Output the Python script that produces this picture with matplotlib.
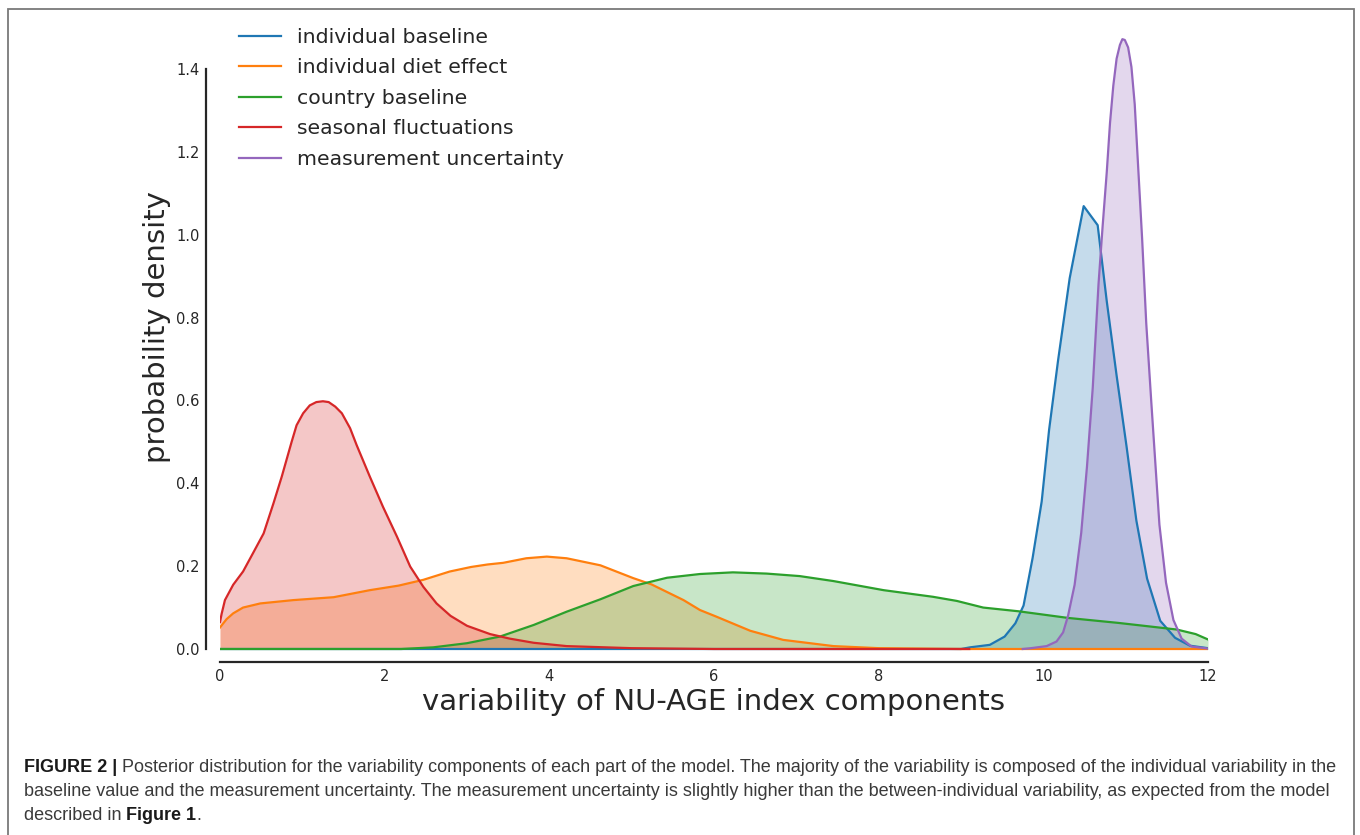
import matplotlib
matplotlib.use("Agg")
import matplotlib.pyplot as plt
from matplotlib.patches import Rectangle

# ---- posterior density curves (x = variability, y = density) ----
series_names = ["individual baseline", "individual diet effect", "country baseline",
                "seasonal fluctuations", "measurement uncertainty"]
series_colors = ["#1f77b4", "#ff7f0e", "#2ca02c", "#d62728", "#9467bd"]

ind_base_x = [0.0, 9.0, 9.11, 9.35, 9.53, 9.66, 9.76, 9.87, 9.98, 10.07, 10.18, 10.32,
              10.49, 10.66, 10.77, 10.89, 11.01, 11.13, 11.26, 11.42, 11.60, 11.78, 12.0]
ind_base_y = [0.0, 0.0, 0.004, 0.010, 0.030, 0.062, 0.105, 0.220, 0.356, 0.529, 0.698, 0.895,
              1.069, 1.023, 0.840, 0.660, 0.490, 0.310, 0.170, 0.068, 0.027, 0.008, 0.002]

diet_x = [0.0, 0.08, 0.16, 0.28, 0.49, 0.89, 1.38, 1.82, 2.17, 2.47, 2.79, 3.05, 3.25, 3.44,
          3.72, 3.97, 4.21, 4.62, 5.02, 5.24, 5.63, 5.83, 6.03, 6.44, 6.84, 7.45, 8.0, 9.0, 12.0]
diet_y = [0.052, 0.072, 0.086, 0.100, 0.110, 0.118, 0.125, 0.142, 0.153, 0.167, 0.187, 0.198,
          0.204, 0.208, 0.219, 0.223, 0.219, 0.202, 0.171, 0.156, 0.118, 0.094, 0.078, 0.044,
          0.022, 0.007, 0.002, 0.0, 0.0]

country_x = [0.0, 2.2, 2.59, 3.0, 3.40, 3.81, 4.21, 4.62, 5.02, 5.43, 5.83, 6.23, 6.64, 7.04,
             7.45, 8.06, 8.66, 8.95, 9.27, 9.70, 10.30, 10.91, 11.62, 11.85, 12.0]
country_y = [0.0, 0.0, 0.004, 0.014, 0.030, 0.058, 0.090, 0.120, 0.152, 0.172, 0.181, 0.185,
             0.182, 0.176, 0.164, 0.142, 0.126, 0.116, 0.100, 0.091, 0.075, 0.063, 0.047,
             0.036, 0.023]

seasonal_x = [0.0, 0.02, 0.06, 0.16, 0.28, 0.40, 0.53, 0.65, 0.75, 0.87, 0.93, 1.01, 1.09,
              1.17, 1.25, 1.32, 1.40, 1.48, 1.58, 1.66, 1.82, 1.98, 2.15, 2.31, 2.47, 2.63,
              2.80, 3.00, 3.28, 3.52, 3.81, 4.21, 5.0, 6.0, 9.1]
seasonal_y = [0.065, 0.085, 0.118, 0.155, 0.187, 0.231, 0.279, 0.352, 0.416, 0.500, 0.540,
              0.569, 0.588, 0.596, 0.598, 0.596, 0.585, 0.569, 0.533, 0.492, 0.416, 0.343,
              0.271, 0.199, 0.150, 0.110, 0.080, 0.056, 0.036, 0.025, 0.015, 0.007, 0.002,
              0.0, 0.0]

meas_x = [9.75, 9.85, 10.04, 10.16, 10.24, 10.30, 10.38, 10.46, 10.53, 10.60, 10.67,
          10.72, 10.77, 10.81, 10.85, 10.89, 10.93, 10.96, 10.99, 11.03, 11.07, 11.11, 11.15,
          11.20, 11.25, 11.31, 11.36, 11.41, 11.49, 11.58, 11.68, 11.80, 12.0]
meas_y = [0.0, 0.002, 0.007, 0.018, 0.040, 0.080, 0.155, 0.280, 0.440, 0.630, 0.880,
          1.020, 1.150, 1.270, 1.360, 1.425, 1.458, 1.472, 1.470, 1.452, 1.405, 1.315, 1.170,
          0.990, 0.786, 0.600, 0.450, 0.300, 0.160, 0.070, 0.025, 0.006, 0.001]

series_x = [ind_base_x, diet_x, country_x, seasonal_x, meas_x]
series_y = [ind_base_y, diet_y, country_y, seasonal_y, meas_y]

x_ticks = [0, 2, 4, 6, 8, 10, 12]
y_ticks = [0.0, 0.2, 0.4, 0.6, 0.8, 1.0, 1.2, 1.4]

caption_lines = [
    [("FIGURE 2 |", "bold"), (" Posterior distribution for the variability components of each "
      "part of the model. The majority of the variability is composed of the individual "
      "variability in the", "normal")],
    [("baseline value and the measurement uncertainty. The measurement uncertainty is slightly "
      "higher than the between-individual variability, as expected from the model", "normal")],
    [("described in ", "normal"), ("Figure 1", "bold"), (".", "normal")],
]

# ---- layout in pixels ----
W, H = 1360, 835
fig = plt.figure(figsize=(W / 100, H / 100), dpi=100)
fig.patch.set_facecolor("white")

y_lo, y_hi = -0.012, 1.55
ppu = (649 - 69) / 1.4
top_px = 649 - y_hi * ppu
bot_px = 649 - y_lo * ppu
ax = fig.add_axes([220 / W, 1 - bot_px / H, 988 / W, (bot_px - top_px) / H])
ax.set_xlim(0, 12)
ax.set_ylim(y_lo, y_hi)

for xs, ys, c, name in zip(series_x, series_y, series_colors, series_names):
    ax.fill_between(xs, 0, ys, color=c, alpha=0.26, linewidth=0)
    ax.plot(xs, ys, color=c, lw=1.6, label=name)

# trimmed, offset spines
spine_col = "#262626"
for s in ("top", "right"):
    ax.spines[s].set_visible(False)
ax.spines["left"].set_position(("outward", 14 * 0.72))
ax.spines["bottom"].set_position(("outward", (662 - bot_px) * 0.72))
ax.spines["left"].set_bounds(0, 1.4)
ax.spines["bottom"].set_bounds(0, 12)
for s in ("left", "bottom"):
    ax.spines[s].set_color(spine_col)
    ax.spines[s].set_linewidth(1.6)

ax.set_xticks(x_ticks)
ax.set_xticklabels([str(t) for t in x_ticks])
ax.set_yticks(y_ticks)
ax.set_yticklabels([f"{t:.1f}" for t in y_ticks])
ax.tick_params(axis="both", length=0, labelsize=10.5, labelcolor="#262626")
ax.tick_params(axis="x", pad=5)
ax.tick_params(axis="y", pad=4.5)

ax.set_ylabel("probability density", fontsize=21, color="#262626", va="center")
ax.yaxis.set_label_coords((157 - 220) / 988, (bot_px - 327) / (bot_px - top_px))
ax.set_xlabel("variability of NU-AGE index components", fontsize=21, color="#262626",
              va="center")
ax.xaxis.set_label_coords(0.5, (bot_px - 702) / (bot_px - top_px))

leg = ax.legend(loc="upper left", bbox_to_anchor=(239 / W, 1 - 28 / H),
                bbox_transform=fig.transFigure, frameon=False, fontsize=14.7,
                handlelength=2.05, handletextpad=0.8, labelspacing=0.56,
                borderpad=0, borderaxespad=0)
for t in leg.get_texts():
    t.set_color("#262626")

# outer frame
fig.add_artist(Rectangle((8 / W, -0.05), (1354 - 8) / W, 1.05 - 9 / H,
                         transform=fig.transFigure, fill=False,
                         edgecolor="#7a7a7a", lw=1.3))

# caption
cap_fam = ["Liberation Sans Narrow", "Liberation Sans", "DejaVu Sans"]
renderer = fig.canvas.get_renderer()


def line_width(parts, size):
    total = 0.0
    for txt, wt in parts:
        t = fig.text(0, 0, txt, fontsize=size, family=cap_fam, fontweight=wt)
        total += t.get_window_extent(renderer).width
        t.remove()
    return total


cap_size = 12.0
w0 = line_width(caption_lines[0], cap_size)
cap_size *= (1338 - 24) / w0

line_centers = [767, 791, 815]
for parts, yc in zip(caption_lines, line_centers):
    xpx = 24.0
    for txt, wt in parts:
        t = fig.text(xpx / W, 1 - yc / H, txt, fontsize=cap_size, family=cap_fam,
                     fontweight=wt, va="center", ha="left",
                     color="#1a1a1a" if wt == "bold" else "#3a3a3a")
        xpx += t.get_window_extent(renderer).width

fig.savefig("out.png", dpi=100, facecolor="white")
